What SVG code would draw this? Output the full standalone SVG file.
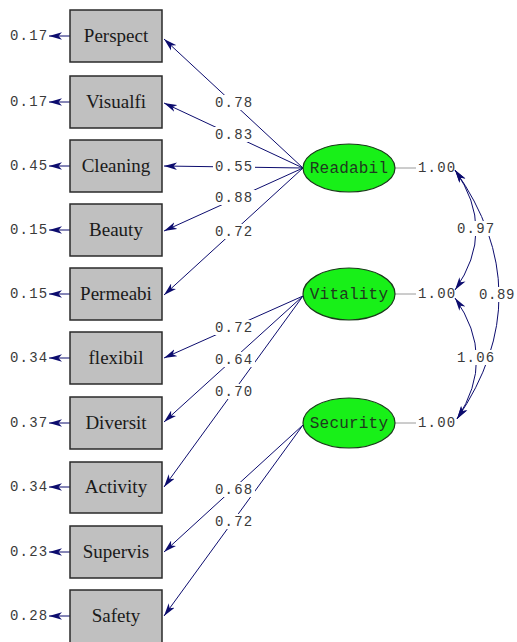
<svg xmlns="http://www.w3.org/2000/svg" width="517" height="642" viewBox="0 0 517 642">
<defs>
<marker id="ah" viewBox="0 0 13 8" refX="13" refY="4" markerWidth="13" markerHeight="8" markerUnits="userSpaceOnUse" orient="auto-start-reverse">
<path d="M13,4 L0,0.3 L3.5,4 L0,7.7 Z" fill="#0c0c6e"/>
</marker>
<style>
.box{fill:#c0c0c0;stroke:#2a2a2a;stroke-width:1.5}
.lat{fill:#18f018;stroke:#1a3a1a;stroke-width:1.2}
.obs{font-family:"Liberation Serif","Times New Roman",serif;font-size:19px;fill:#1a1a1a;text-anchor:middle}
.ltx{font-family:"Liberation Mono","Courier New",monospace;font-size:16px;letter-spacing:0.2px;fill:#1e3a1e;text-anchor:middle}
.num{font-family:"Liberation Mono","Courier New",monospace;font-size:14px;letter-spacing:1.2px;fill:#3a3a3a}
.arr{fill:none;stroke:#0c0c6e;stroke-width:1;marker-end:url(#ah)}
.cov{fill:none;stroke:#0c0c6e;stroke-width:1;marker-start:url(#ah);marker-end:url(#ah)}
.gl{stroke:#9a9a9a;stroke-width:1}
.bg{fill:#ffffff}
</style>
</defs>
<rect width="517" height="642" fill="#ffffff"/>

<g id="connectors">
<line class="arr" x1="70" y1="36" x2="49" y2="36"/>
<line class="arr" x1="70" y1="102" x2="49" y2="102"/>
<line class="arr" x1="70" y1="166" x2="49" y2="166"/>
<line class="arr" x1="70" y1="230" x2="49" y2="230"/>
<line class="arr" x1="70" y1="294" x2="49" y2="294"/>
<line class="arr" x1="70" y1="358" x2="49" y2="358"/>
<line class="arr" x1="70" y1="423" x2="49" y2="423"/>
<line class="arr" x1="70" y1="487" x2="49" y2="487"/>
<line class="arr" x1="70" y1="552" x2="49" y2="552"/>
<line class="arr" x1="70" y1="616" x2="49" y2="616"/>
<line class="arr" x1="303" y1="168" x2="164" y2="39"/>
<line class="arr" x1="303" y1="168" x2="164" y2="103"/>
<line class="arr" x1="303" y1="168" x2="164" y2="166"/>
<line class="arr" x1="303" y1="168" x2="164" y2="231"/>
<line class="arr" x1="303" y1="168" x2="164" y2="295"/>
<line class="arr" x1="303" y1="296" x2="164" y2="358"/>
<line class="arr" x1="303" y1="296" x2="164" y2="422"/>
<line class="arr" x1="303" y1="296" x2="164" y2="487"/>
<line class="arr" x1="303" y1="425" x2="164" y2="552"/>
<line class="arr" x1="303" y1="425" x2="164" y2="616"/>
<line class="gl" x1="395" y1="168" x2="416" y2="168"/>
<line class="gl" x1="395" y1="294" x2="416" y2="294"/>
<line class="gl" x1="395" y1="423" x2="416" y2="423"/>
<path class="cov" d="M455,170 Q497,230 455,290"/>
<path class="cov" d="M455,170 Q542,294 457,419"/>
<path class="cov" d="M455,298 Q497,358 457,419"/>
<rect class="bg" x="213" y="95" width="42" height="15"/>
<rect class="bg" x="213" y="127" width="42" height="15"/>
<rect class="bg" x="213" y="159" width="42" height="15"/>
<rect class="bg" x="213" y="190" width="42" height="15"/>
<rect class="bg" x="213" y="224" width="42" height="15"/>
<rect class="bg" x="213" y="320" width="42" height="15"/>
<rect class="bg" x="213" y="352" width="42" height="15"/>
<rect class="bg" x="213" y="384" width="42" height="15"/>
<rect class="bg" x="213" y="482" width="42" height="15"/>
<rect class="bg" x="213" y="514" width="42" height="15"/>
<rect class="bg" x="455" y="221" width="41" height="15"/>
<rect class="bg" x="478" y="287" width="39" height="15"/>
<rect class="bg" x="455" y="350" width="41" height="15"/>
<text class="num" x="215" y="107">0.78</text>
<text class="num" x="215" y="139">0.83</text>
<text class="num" x="215" y="171">0.55</text>
<text class="num" x="215" y="202">0.88</text>
<text class="num" x="215" y="236">0.72</text>
<text class="num" x="215" y="332">0.72</text>
<text class="num" x="215" y="364">0.64</text>
<text class="num" x="215" y="396">0.70</text>
<text class="num" x="215" y="494">0.68</text>
<text class="num" x="215" y="526">0.72</text>
<text class="num" x="457" y="233">0.97</text>
<text class="num" x="479" y="299" style="letter-spacing:0.6px">0.89</text>
<text class="num" x="457" y="362">1.06</text>
<text class="num" x="418" y="172">1.00</text>
<text class="num" x="418" y="298">1.00</text>
<text class="num" x="418" y="427">1.00</text>
<text class="num" x="10" y="40">0.17</text>
<text class="num" x="10" y="106">0.17</text>
<text class="num" x="10" y="170">0.45</text>
<text class="num" x="10" y="234">0.15</text>
<text class="num" x="10" y="298">0.15</text>
<text class="num" x="10" y="362">0.34</text>
<text class="num" x="10" y="427">0.37</text>
<text class="num" x="10" y="491">0.34</text>
<text class="num" x="10" y="556">0.23</text>
<text class="num" x="10" y="620">0.28</text>
</g>

<g id="Perspect"><rect class="box" x="70" y="10" width="92" height="52"/><text class="obs" x="116" y="42">Perspect</text></g>
<g id="Visualfi"><rect class="box" x="70" y="76" width="92" height="52"/><text class="obs" x="116" y="108">Visualfi</text></g>
<g id="Cleaning"><rect class="box" x="70" y="140" width="92" height="52"/><text class="obs" x="116" y="172">Cleaning</text></g>
<g id="Beauty"><rect class="box" x="70" y="204" width="92" height="52"/><text class="obs" x="116" y="236">Beauty</text></g>
<g id="Permeabi"><rect class="box" x="70" y="268" width="92" height="52"/><text class="obs" x="116" y="300">Permeabi</text></g>
<g id="flexibil"><rect class="box" x="70" y="332" width="92" height="52"/><text class="obs" x="116" y="364">flexibil</text></g>
<g id="Diversit"><rect class="box" x="70" y="397" width="92" height="52"/><text class="obs" x="116" y="429">Diversit</text></g>
<g id="Activity"><rect class="box" x="70" y="462" width="92" height="51"/><text class="obs" x="116" y="493">Activity</text></g>
<g id="Supervis"><rect class="box" x="70" y="526" width="92" height="52"/><text class="obs" x="116" y="558">Supervis</text></g>
<g id="Safety"><rect class="box" x="70" y="590" width="92" height="54"/><text class="obs" x="116" y="622">Safety</text></g>

<g id="Readabil"><ellipse class="lat" cx="349" cy="168" rx="46" ry="24"/><text class="ltx" x="349" y="173">Readabil</text></g>
<g id="Vitality"><ellipse class="lat" cx="349" cy="294" rx="46" ry="26"/><text class="ltx" x="349" y="299">Vitality</text></g>
<g id="Security"><ellipse class="lat" cx="349" cy="423" rx="46" ry="25"/><text class="ltx" x="349" y="428">Security</text></g>
</svg>
